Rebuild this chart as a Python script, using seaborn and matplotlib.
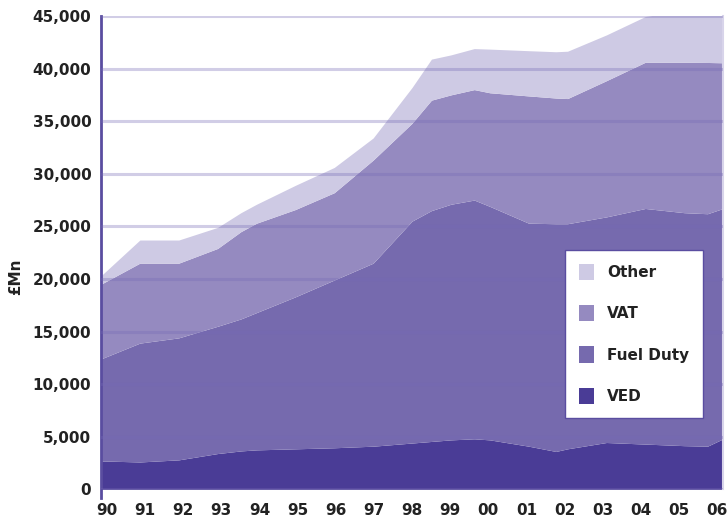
import numpy as np
import pandas as pd
import matplotlib
matplotlib.use("Agg")
import matplotlib.pyplot as plt
import seaborn as sns

# financial years (fractional points where the curves kink)
years = [1990, 1991, 1992, 1993, 1993.6, 1994, 1995, 1996, 1997, 1998, 1998.5,
         1999, 1999.6, 2000, 2001, 2001.7, 2002, 2003, 2004, 2005, 2005.6, 2006]

ved = [2700, 2600, 2800, 3400, 3650, 3750, 3850, 3950, 4100, 4400, 4550,
       4700, 4800, 4700, 4100, 3600, 3850, 4450, 4300, 4150, 4100, 4800]
fuel_duty = [9700, 11300, 11600, 12100, 12550, 13050, 14450, 15950, 17400, 21100, 21950,
             22400, 22700, 22200, 21200, 21650, 21400, 21450, 22400, 22150, 22100, 21900]
vat = [7100, 7600, 7100, 7400, 8300, 8500, 8300, 8300, 9800, 9300, 10500,
       10400, 10500, 10800, 12100, 11950, 11900, 12950, 13900, 14300, 14380, 13850]
other = [800, 2200, 2200, 2000, 1800, 1800, 2300, 2400, 2100, 3400, 3900,
         3800, 3900, 4150, 4300, 4400, 4500, 4350, 4350, 4900, 5020, 5050]

tick_labels = ["90", "91", "92", "93", "94", "95", "96", "97", "98",
               "99", "00", "01", "02", "03", "04", "05", "06"]

series = ["VED", "Fuel Duty", "VAT", "Other"]
colors = {"VED": "#4a3c96", "Fuel Duty": "#766aae", "VAT": "#958ac0", "Other": "#cecae4"}

df = pd.DataFrame({"year": years, "VED": ved, "Fuel Duty": fuel_duty,
                   "VAT": vat, "Other": other})

sns.set_theme(style="white")
plt.rcParams["font.family"] = ["DejaVu Sans"]
plt.rcParams["font.weight"] = "bold"

fig = plt.figure(figsize=(7.28, 5.19), dpi=100)
ax = fig.add_axes([0.1387, 0.0572, 0.8545, 0.912])

ax.stackplot(df["year"], [df[s] for s in series],
             colors=[colors[s] for s in series], labels=series, linewidth=0)

ax.set_xlim(1990, 2006)
ax.set_ylim(0, 45000)
ax.set_yticks(np.arange(0, 45001, 5000))
ax.set_yticklabels([f"{v:,}" for v in range(0, 45001, 5000)])
# labels sit slightly inside the first/last year
ax.set_xticks(np.linspace(1990.15, 2005.85, len(tick_labels)))
ax.set_xticklabels(tick_labels)

ax.set_axisbelow(False)
ax.yaxis.grid(True, color="#7569b5", alpha=0.33, linewidth=2.2)
ax.xaxis.grid(False)

for s in ["top", "bottom"]:
    ax.spines[s].set_visible(False)
ax.spines["right"].set_color("#d8d4ea")
ax.spines["right"].set_linewidth(1.5)
ax.spines["left"].set_color("#5a4da0")
ax.spines["left"].set_linewidth(2)
ax.spines["left"].set_bounds(-800, 45000)

ax.tick_params(axis="y", length=4, width=2.2, color="#cfcae6", pad=3,
               labelsize=11, labelcolor="#222222")
ax.tick_params(axis="x", length=0, pad=10, labelsize=11, labelcolor="#222222")
for lab in ax.get_xticklabels() + ax.get_yticklabels():
    lab.set_fontweight("bold")

ax.set_ylabel("£Mn", fontsize=11, fontweight="bold", color="#222222")
ax.yaxis.set_label_coords(-0.125, 0.45)

handles, labels = ax.get_legend_handles_labels()
leg = ax.legend(handles[::-1], labels[::-1], loc="upper left",
                bbox_to_anchor=(0.746, 0.506), frameon=True, fancybox=False,
                fontsize=11, labelspacing=1.65, handlelength=1.0, handleheight=1.25,
                handletextpad=0.85, borderpad=0.9, borderaxespad=0)
leg.get_frame().set_edgecolor("#5a4da0")
leg.get_frame().set_linewidth(1)
leg.get_frame().set_alpha(1)
for t in leg.get_texts():
    t.set_fontweight("bold")
    t.set_color("#222222")

fig.savefig("out.png", dpi=100)
